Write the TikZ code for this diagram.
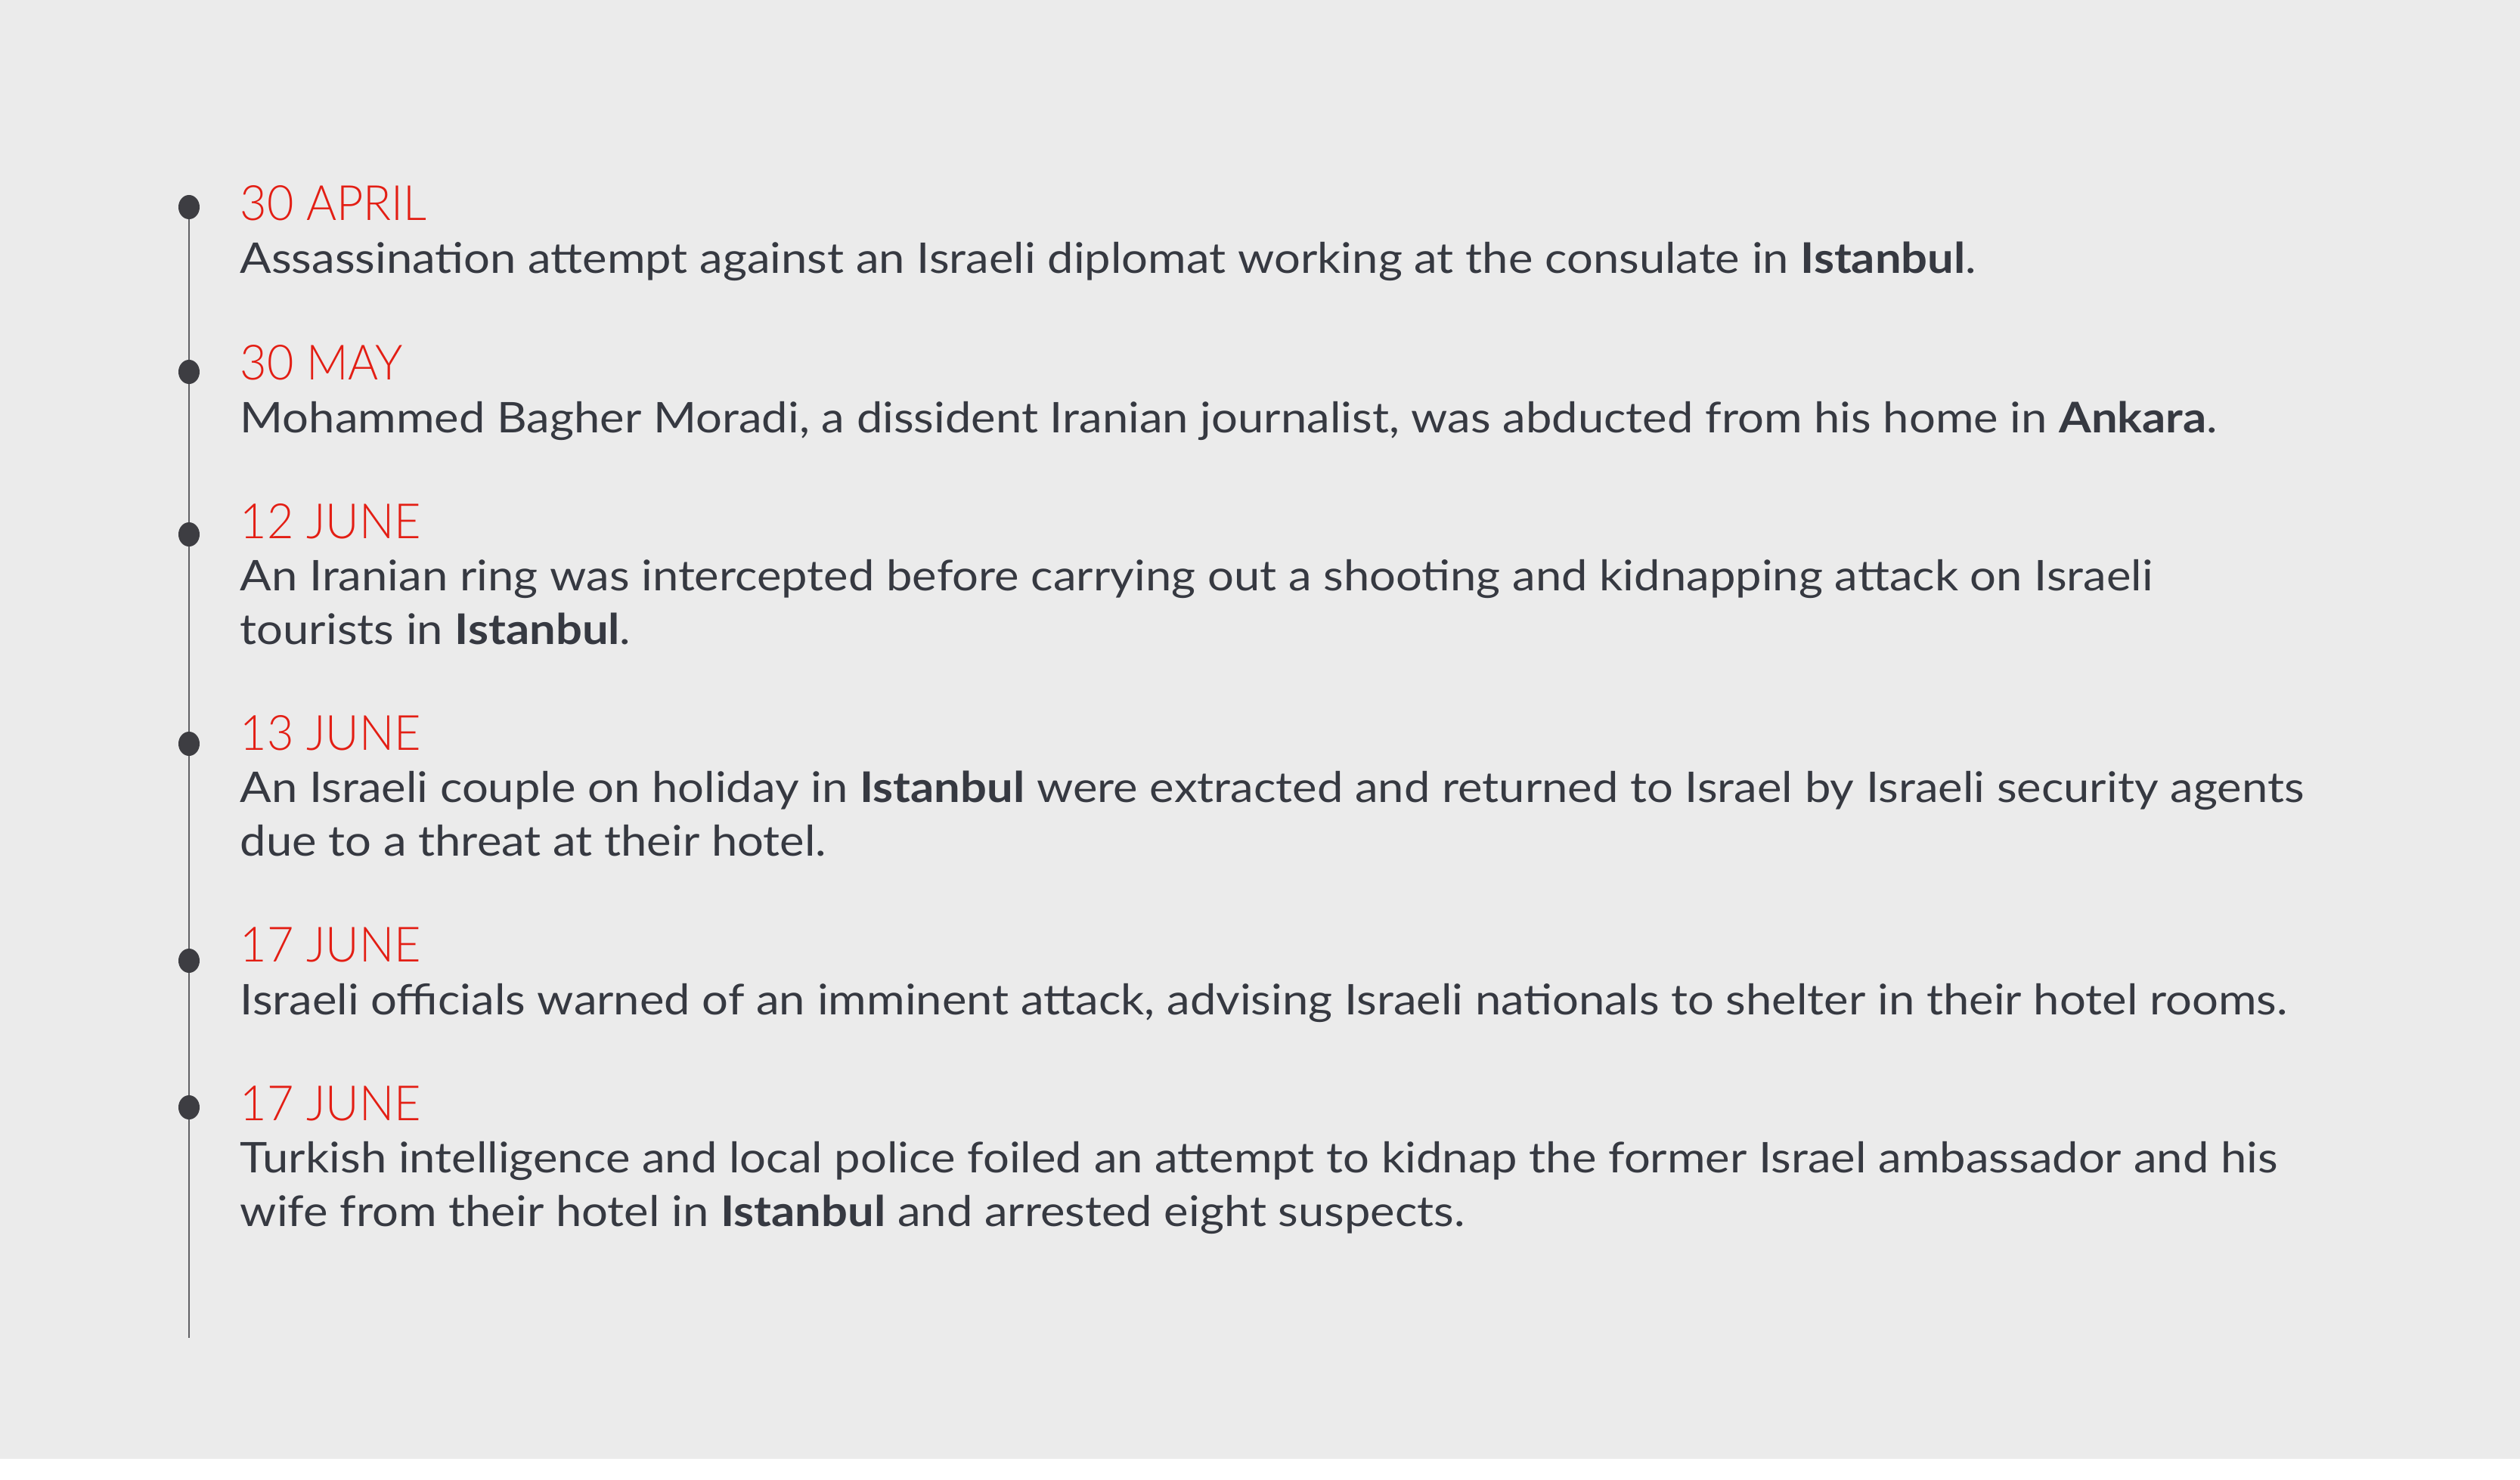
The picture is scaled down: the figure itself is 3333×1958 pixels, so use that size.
\documentclass[tikz,border=0pt]{standalone}
\usepackage{fontspec}
\setmainfont[FakeStretch=1.10]{Lato}
\newfontfamily\datefont[FakeStretch=0.95]{Lato Light}
\usetikzlibrary{shapes.geometric,backgrounds}

\definecolor{bggrey}{HTML}{EBEBEB}
\definecolor{datered}{HTML}{E31E14}
\definecolor{bodyink}{HTML}{363941}
\definecolor{dotgrey}{HTML}{3D3D42}
\definecolor{linegrey}{HTML}{606064}

\begin{document}
\begin{tikzpicture}[x=0.01cm,y=-0.01cm,
  datelabel/.style={anchor=base west,inner sep=0,text=datered,
    font=\datefont\fontsize{18.3}{19.92}\selectfont},
  eventtext/.style={anchor=base west,inner sep=0,text=bodyink,align=left,
    font=\fontsize{15.9}{19.92}\selectfont},
  tldot/.style={ellipse,fill=dotgrey,minimum width=0.28cm,
    minimum height=0.32cm,inner sep=0}]
\useasboundingbox (0,0) rectangle (3333,1958);

% dot y / date baseline / lines of text / date / text
\foreach \dy/\by/\nl/\dt/\tx [count=\i] in {
  274/292/1/{30 APRIL}/{Assassination attempt against an Israeli diplomat working at the consulate in \textbf{Istanbul}.},
  492/502/1/{30 MAY}/{Mohammed Bagher Moradi, a dissident Iranian journalist, was abducted from his home in \textbf{Ankara}.},
  707/712/2/{12 JUNE}/{An Iranian ring was intercepted before carrying out a shooting and kidnapping attack on Israeli\\tourists in \textbf{Istanbul}.},
  984/992/2/{13 JUNE}/{An Israeli couple on holiday in \textbf{Istanbul} were extracted and returned to Israel by Israeli security agents\\due to a threat at their hotel.},
  1271/1272/1/{17 JUNE}/{Israeli officials warned of an imminent attack, advising Israeli nationals to shelter in their hotel rooms.},
  1465/1482/2/{17 JUNE}/{Turkish intelligence and local police foiled an attempt to kidnap the former Israel ambassador and his\\wife from their hotel in \textbf{Istanbul} and arrested eight suspects.}}
{
  \node[tldot] (dot\i) at (250,\dy) {};
  \node[datelabel] (date\i) at (317,\by) {\dt};
  \node[eventtext] (event\i) at (317,\by+70*\nl) {\tx};
}

\coordinate (tlend) at (250,1770);

\begin{scope}[on background layer]
  \fill[bggrey] (0,0) rectangle (3333,1930);
  \draw[linegrey,line width=0.5pt] (dot1.center) -- (tlend);
\end{scope}

\end{tikzpicture}
\end{document}
